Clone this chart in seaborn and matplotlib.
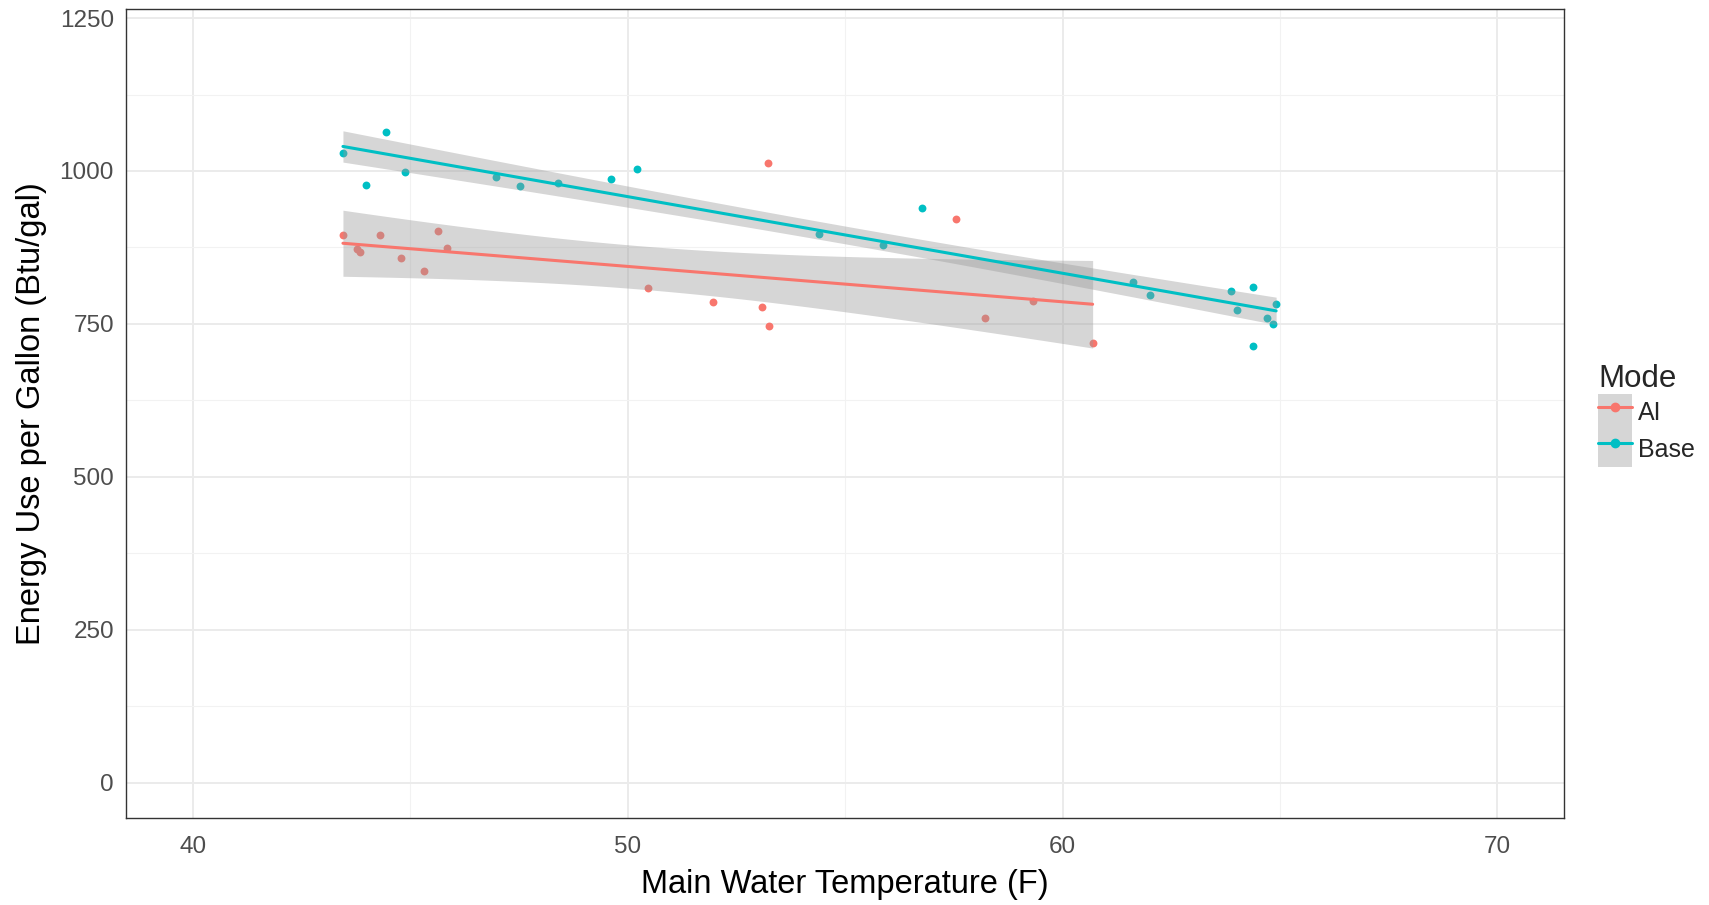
import math
import numpy as np
import matplotlib
matplotlib.use("Agg")
import matplotlib.pyplot as plt
import seaborn as sns
from matplotlib.lines import Line2D
from matplotlib.patches import Patch
from matplotlib.ticker import MultipleLocator

# ---- data ----
ai_temp = [43.45, 43.77, 43.85, 44.30, 44.79, 45.32, 45.64, 45.85, 50.46, 51.95,
           53.08, 53.22, 53.25, 57.54, 58.22, 59.31, 60.69]
ai_energy = [896, 872, 868, 896, 858, 836, 902, 874, 808, 785,
             778, 1013, 747, 921, 760, 787, 719]

base_temp = [43.45, 43.99, 44.45, 44.87, 46.98, 47.52, 48.40, 49.61, 50.21, 54.39,
             55.88, 56.76, 61.61, 62.00, 63.88, 64.02, 64.37, 64.37, 64.69, 64.83, 64.91]
base_energy = [1030, 977, 1063, 998, 990, 975, 980, 987, 1003, 897,
               879, 940, 818, 798, 803, 772, 810, 714, 760, 750, 782]

modes = ["AI", "Base"]
colors = ["#F8766D", "#00BFC4"]
x_ticks = [40, 50, 60, 70]
y_ticks = [0, 250, 500, 750, 1000, 1250]


def t_crit(df, q=0.975):
    t = np.linspace(0, 12, 240001)
    c = math.gamma((df + 1) / 2) / (math.sqrt(df * math.pi) * math.gamma(df / 2))
    pdf = c * (1 + t ** 2 / df) ** (-(df + 1) / 2)
    cdf = 0.5 + np.concatenate([[0], np.cumsum((pdf[1:] + pdf[:-1]) / 2 * np.diff(t))])
    return float(np.interp(q, cdf, t))


def lm_band(xv, yv, n_grid=80):
    x = np.asarray(xv, float)
    y = np.asarray(yv, float)
    n = len(x)
    b1, b0 = np.polyfit(x, y, 1)
    resid = y - (b0 + b1 * x)
    s = math.sqrt((resid ** 2).sum() / (n - 2))
    sxx = ((x - x.mean()) ** 2).sum()
    xs = np.linspace(x.min(), x.max(), n_grid)
    yhat = b0 + b1 * xs
    se = s * np.sqrt(1 / n + (xs - x.mean()) ** 2 / sxx)
    tc = t_crit(n - 2)
    return xs, yhat - tc * se, yhat + tc * se


sns.set_style("white")
plt.rcParams['font.family'] = ['Liberation Sans', 'DejaVu Sans']

W, H = 1709, 905
fig = plt.figure(figsize=(W / 100, H / 100), dpi=100)
ax = fig.add_axes([126.4 / W, 1 - 817.5 / H, (1564 - 126.4) / W, (817.5 - 9.5) / H])

band_rgb = (0.6, 0.6, 0.6)
for temps, vals, col in [(ai_temp, ai_energy, colors[0]), (base_temp, base_energy, colors[1])]:
    sns.regplot(x=temps, y=vals, ax=ax, ci=None, truncate=True, color=col,
                scatter_kws=dict(s=32, linewidths=0, alpha=1, zorder=2),
                line_kws=dict(lw=2.2, zorder=4))
    xs, lo, hi = lm_band(temps, vals)
    ax.fill_between(xs, lo, hi, color=band_rgb, alpha=0.4, lw=0, zorder=3)

ax.set_xlim(38.47, 71.53)
ax.set_ylim(-57, 1264)
ax.set_xticks(x_ticks)
ax.set_yticks(y_ticks)
ax.xaxis.set_minor_locator(MultipleLocator(5))
ax.yaxis.set_minor_locator(MultipleLocator(125))
ax.grid(True, which='major', color='#EBEBEB', lw=1.4, zorder=0)
ax.grid(True, which='minor', color='#F2F2F2', lw=0.8, zorder=0)
ax.set_axisbelow(True)
for s in ax.spines.values():
    s.set_color('#333333')
    s.set_linewidth(1.0)
    s.set_visible(True)
ax.tick_params(axis='both', which='major', length=5, width=1, color='#333333',
               labelsize=17.5, labelcolor='#4D4D4D', direction='out')
ax.tick_params(axis='x', which='major', pad=8.5)
ax.tick_params(axis='y', which='major', pad=4)
ax.tick_params(axis='both', which='minor', length=0)
ax.set_xlabel("Main Water Temperature (F)", fontsize=23.5, labelpad=8, color='black')
ax.set_ylabel("Energy Use per Gallon (Btu/gal)", fontsize=23.5, labelpad=9, color='black')

handles = [(Patch(facecolor=band_rgb, alpha=0.4, edgecolor='none'),
            Line2D([], [], color=c, lw=2.2, marker='o', ms=6)) for c in colors]
fig.legend(handles, modes, title='Mode', loc='upper left',
           bbox_to_anchor=(1598 / W, 1 - 364 / H), frameon=False,
           fontsize=18, title_fontsize=22.5, handlelength=1.35, handleheight=1.86,
           handletextpad=0.25, labelspacing=0, borderpad=0, borderaxespad=0,
           alignment='left', numpoints=1)

fig.savefig("out.png", dpi=100)
